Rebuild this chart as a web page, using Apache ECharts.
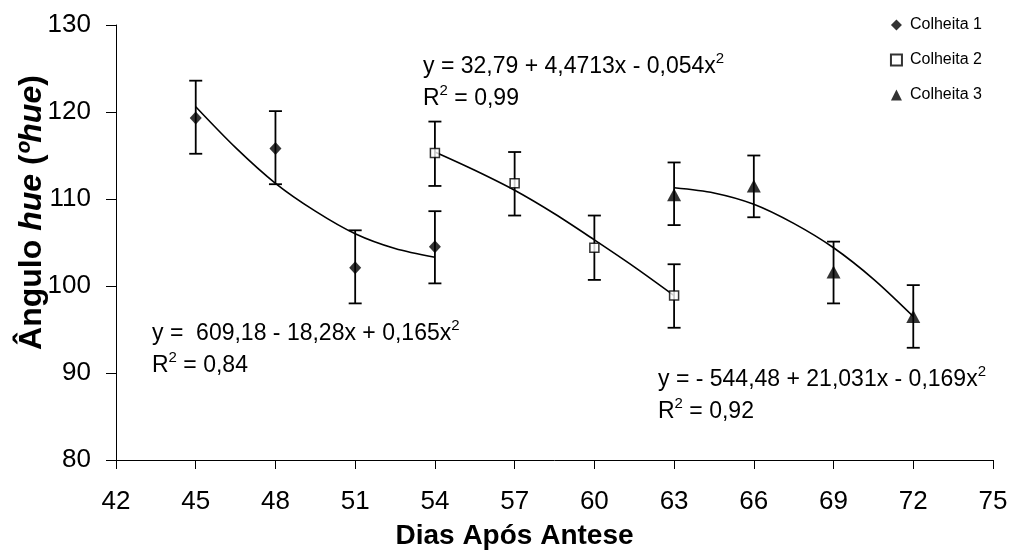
<!DOCTYPE html>
<html>
<head>
<meta charset="utf-8">
<script src="https://cdn.jsdelivr.net/npm/echarts@6/dist/echarts.min.js"></script>
<style>html,body{margin:0;padding:0;background:#fff;}#c{width:1011px;height:552px;}</style>
</head>
<body>
<div id="c"></div>
<script>
// ---- data ----
var xTicks = [42, 45, 48, 51, 54, 57, 60, 63, 66, 69, 72, 75];
var yTicks = [80, 90, 100, 110, 120, 130];

var days1 = [45, 48, 51, 54];
var mean1 = [119.3, 115.8, 102.1, 104.5];
var low1  = [115.2, 111.7, 98.0, 100.3];
var high1 = [123.6, 120.1, 106.4, 108.6];

var days2 = [54, 57, 60, 63];
var mean2 = [115.3, 111.8, 104.4, 98.9];
var low2  = [111.5, 108.1, 100.7, 95.2];
var high2 = [118.9, 115.4, 108.1, 102.5];

var days3 = [63, 66, 69, 72];
var mean3 = [110.5, 111.5, 101.6, 96.5];
var low3  = [107.0, 107.9, 98.0, 92.9];
var high3 = [114.2, 115.0, 105.1, 100.1];

// fitted curves as drawn in the reference
var fitX1 = [45, 46.5, 48, 49.5, 51, 52.5, 54];
var fitY1 = [120.6, 115.9, 111.8, 108.6, 106.0, 104.3, 103.3];
var fitX2 = [54, 55.5, 57, 58.5, 60, 61.5, 63];
var fitY2 = [115.4, 113.3, 111.0, 108.3, 105.3, 102.2, 98.9];
var fitX3 = [63, 64.5, 66, 67.5, 69, 70.5, 72];
var fitY3 = [111.3, 110.7, 109.4, 107.2, 104.4, 100.8, 96.5];

var seriesNames = ['Colheita 1', 'Colheita 2', 'Colheita 3'];
var eq1 = ['y =  609,18 - 18,28x + 0,165x', 'R', ' = 0,84'];
var eq2 = ['y = 32,79 + 4,4713x - 0,054x', 'R', ' = 0,99'];
var eq3 = ['y = - 544,48 + 21,031x - 0,169x', 'R', ' = 0,92'];

function zip(a, b) { return a.map(function (v, i) { return [v, b[i]]; }); }
function errData(d, lo, hi) { return d.map(function (v, i) { return [v, lo[i], hi[i]]; }); }

var FONT = 'Liberation Sans, Arial, sans-serif';

function errSeries(d, lo, hi) {
  return {
    type: 'custom',
    silent: true,
    z: 3,
    data: errData(d, lo, hi),
    renderItem: function (params, api) {
      var x = api.value(0);
      var p1 = api.coord([x, api.value(1)]);
      var p2 = api.coord([x, api.value(2)]);
      var w = 6.5;
      var st = { stroke: '#000', lineWidth: 1.8 };
      return {
        type: 'group',
        children: [
          { type: 'line', shape: { x1: p1[0], y1: p1[1], x2: p2[0], y2: p2[1] }, style: st },
          { type: 'line', shape: { x1: p1[0] - w, y1: p1[1], x2: p1[0] + w, y2: p1[1] }, style: st },
          { type: 'line', shape: { x1: p2[0] - w, y1: p2[1], x2: p2[0] + w, y2: p2[1] }, style: st }
        ]
      };
    }
  };
}

function fitSeries(xs, ys) {
  return {
    type: 'line', data: zip(xs, ys), smooth: 0.3, showSymbol: false, symbol: 'none',
    silent: true, z: 2,
    lineStyle: { color: '#000', width: 1.6 }
  };
}

function eqText(eq, left, top) {
  return {
    type: 'text', left: left, top: top, z: 10,
    style: {
      text: '{n|' + eq[0] + '}{s|2}\n{n|' + eq[1] + '}{s|2}{n|' + eq[2] + '}',
      rich: {
        n: { fontSize: 23, fontFamily: FONT, fill: '#000', lineHeight: 32 },
        s: { fontSize: 15, fontFamily: FONT, fill: '#000', lineHeight: 32, padding: [0, 0, 16, 0] }
      }
    }
  };
}

var chart = echarts.init(document.getElementById('c'), null, { renderer: 'canvas' });
chart.setOption({
  animation: false,
  backgroundColor: '#fff',
  grid: { left: 116, right: 18, top: 25, bottom: 92, containLabel: false, outerBoundsMode: 'none' },
  legend: {
    data: [
      { name: seriesNames[0], icon: 'diamond' },
      { name: seriesNames[1], icon: 'rect' },
      { name: seriesNames[2], icon: 'triangle' }
    ],
    orient: 'vertical', right: 24, top: 12, itemGap: 19,
    itemWidth: 11, itemHeight: 11,
    textStyle: { fontSize: 16, fontFamily: FONT, color: '#000', padding: [0, 0, 0, 3] }
  },
  xAxis: {
    type: 'value', min: xTicks[0], max: xTicks[xTicks.length - 1], interval: 3,
    name: 'Dias Após Antese', nameLocation: 'middle', nameGap: 62, nameMoveOverlap: false,
    nameTextStyle: { fontSize: 28, fontWeight: 'bold', fontFamily: FONT, color: '#000', padding: [0, 80, 0, 0] },
    axisLine: { lineStyle: { color: '#000', width: 1 } },
    axisTick: { show: true, length: 9, lineStyle: { color: '#000' } },
    axisLabel: { fontSize: 26, fontFamily: FONT, color: '#000', margin: 29 },
    splitLine: { show: false }
  },
  yAxis: {
    type: 'value', min: yTicks[0], max: yTicks[yTicks.length - 1], interval: 10,
    name: '{b|Ângulo }{bi|hue}{b| (}{bi|ºhue}{b|)}', nameLocation: 'middle', nameGap: 68,
    nameMoveOverlap: false,
    nameTextStyle: {
      padding: [0, 0, 0, 60],
      rich: {
        b: { fontSize: 32, fontWeight: 'bold', fontFamily: FONT, color: '#000' },
        bi: { fontSize: 32, fontWeight: 'bold', fontStyle: 'italic', fontFamily: FONT, color: '#000' }
      }
    },
    axisLine: { show: true, lineStyle: { color: '#000', width: 1 } },
    axisTick: { show: true, length: 10, lineStyle: { color: '#000' } },
    axisLabel: { fontSize: 26, fontFamily: FONT, color: '#000', margin: 25 },
    splitLine: { show: false }
  },
  series: [
    fitSeries(fitX1, fitY1),
    fitSeries(fitX2, fitY2),
    fitSeries(fitX3, fitY3),
    errSeries(days1, low1, high1),
    errSeries(days2, low2, high2),
    errSeries(days3, low3, high3),
    {
      name: seriesNames[0], type: 'scatter', data: zip(days1, mean1), z: 5,
      symbol: 'diamond', symbolSize: [12, 13],
      itemStyle: { color: '#000' }
    },
    {
      name: seriesNames[1], type: 'scatter', data: zip(days2, mean2), z: 5,
      symbol: 'rect', symbolSize: 9,
      itemStyle: { color: '#fff', borderColor: '#000', borderWidth: 1.5 }
    },
    {
      name: seriesNames[2], type: 'scatter', data: zip(days3, mean3), z: 5,
      symbol: 'triangle', symbolSize: [14, 13],
      itemStyle: { color: '#000' }
    }
  ],
  graphic: [
    eqText(eq2, 423, 51),
    eqText(eq1, 152, 318),
    eqText(eq3, 658, 364)
  ]
});
</script>
</body>
</html>
